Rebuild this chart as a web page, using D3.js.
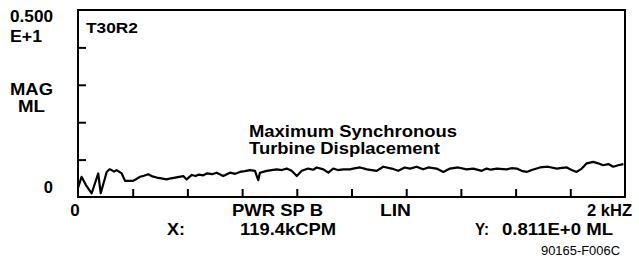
<!DOCTYPE html>
<html><head><meta charset="utf-8">
<script src="https://cdn.jsdelivr.net/npm/d3@7"></script>
<style>
html,body{margin:0;padding:0;background:#fff;}
svg{display:block;font-family:"Liberation Sans",Arial,sans-serif;}
.b{font-weight:bold;fill:#000;}
</style></head>
<body><svg id="c" width="639" height="266"></svg>
<script>
// frequency (Hz) along the spectrum
const freq = [0,13,29,50,74,83,105,115,123,132,141,160,172,202,227,241,257,272,288,305,324,340,355,385,397,416,430,442,458,471,490,507,531,556,575,592,610,629,647,659,665,690,708,726,745,763,781,800,818,842,860,873,897,915,933,950,970,994,1006,1031,1057,1092,1116,1147,1171,1195,1214,1238,1262,1281,1311,1336,1360,1390,1421,1445,1476,1494,1510,1531,1567,1585,1604,1622,1640,1659,1689,1719,1750,1770,1787,1805,1823,1842,1860,1884,1902,1920,1939,1957,1975,1994];
// magnitude (mils)
const mag = [0.24,0.54,0.32,0.10,0.63,0.10,0.67,0.74,0.72,0.68,0.72,0.63,0.43,0.43,0.54,0.57,0.61,0.55,0.52,0.50,0.47,0.50,0.52,0.56,0.47,0.59,0.56,0.60,0.58,0.63,0.61,0.65,0.56,0.65,0.62,0.67,0.69,0.72,0.70,0.45,0.65,0.70,0.72,0.74,0.72,0.76,0.70,0.56,0.70,0.76,0.73,0.79,0.74,0.65,0.76,0.72,0.74,0.74,0.76,0.79,0.74,0.70,0.81,0.76,0.70,0.79,0.76,0.81,0.74,0.79,0.76,0.67,0.76,0.79,0.74,0.76,0.70,0.76,0.73,0.76,0.74,0.77,0.76,0.70,0.67,0.72,0.79,0.81,0.76,0.78,0.79,0.72,0.67,0.76,0.90,0.94,0.90,0.85,0.88,0.81,0.85,0.88];
const yTicks = [1,2,3,4];
const xTicks = [200,400,600,800,1000,1200,1400,1600,1800];
const yTopLabel = ["0.500","E+1"];
const yUnitLabel = ["MAG","ML"];
const traceName = "T30R2";
const annotation = ["Maximum Synchronous","Turbine Displacement"];
const xMinLabel = "0", xMaxLabel = "2 kHZ", yMinLabel = "0";
const bottomRow1 = ["PWR SP B","LIN"];
const cursorX = ["X:","119.4kCPM"];
const cursorY = ["Y:","0.811E+0 ML"];
const figId = "90165-F006C";

const svg = d3.select("#c");
const L=78, R=625, T=10, B=197;
const x = d3.scaleLinear().domain([0,2000]).range([L,R]);
const y = d3.scaleLinear().domain([0,5]).range([B,T]);

// ticks (inward)
svg.append("g").attr("transform",`translate(${L},0)`)
  .call(d3.axisLeft(y).tickValues(yTicks).tickSize(-8).tickFormat(""))
  .call(g=>{g.select(".domain").remove();g.selectAll("line").attr("stroke","#000").attr("stroke-width",2);});
svg.append("g").attr("transform",`translate(0,${B})`)
  .call(d3.axisBottom(x).tickValues(xTicks).tickSize(-8).tickFormat(""))
  .call(g=>{g.select(".domain").remove();g.selectAll("line").attr("stroke","#000").attr("stroke-width",2);});

// line
const line = d3.line().x((d,i)=>x(freq[i])).y(d=>y(d)).curve(d3.curveLinear);
svg.append("path").attr("d",line(mag)).attr("fill","none").attr("stroke","#000").attr("stroke-width",2.2).attr("stroke-linejoin","round");

// frame
svg.append("rect").attr("x",L).attr("y",T).attr("width",R-L).attr("height",B-T)
  .attr("fill","none").attr("stroke","#000").attr("stroke-width",2);

function t(txt,xx,yy,size,anchor,len,bold=true){
  const e = svg.append("text").attr("x",xx).attr("y",yy).attr("font-size",size)
   .attr("text-anchor",anchor||"start").attr("class",bold?"b":"").attr("fill","#000").text(txt);
  if(len) e.attr("textLength",len).attr("lengthAdjust","spacingAndGlyphs");
  return e;
}
function t2(lines,xx,yy,dy,size,anchor,lens){
  const e = svg.append("text").attr("font-size",size).attr("text-anchor",anchor||"start").attr("class","b");
  lines.forEach((s,i)=>{
    const ts = e.append("tspan").attr("x",xx).attr("y",yy+i*dy).text(s);
    if(lens&&lens[i]) ts.attr("textLength",lens[i]).attr("lengthAdjust","spacingAndGlyphs");
  });
  return e;
}
t2(yTopLabel,10,22,20,16.5,"start",[43,32]);
t2(yUnitLabel,31.5,95,17,16.5,"middle",[43,27]);
t(yMinLabel,53,193,16.5,"end");
t(traceName,86,33,15,"start",52);
t2(annotation,249,137,16.5,16,"start",[208,191]);
t(xMinLabel,75,216,17,"middle");
t(bottomRow1[0],232,216,17,"start",91);
t(bottomRow1[1],380,216,17,"start",31);
t(xMaxLabel,632,216,17,"end",45);
t(cursorX[0],167,235,17,"start",18);
t(cursorX[1],240,235,17,"start",96);
t(cursorY[0],475,235,17,"start",14);
t(cursorY[1],613,235,17,"end",111);
t(figId,620,255,12,"end",79,false);
</script></body></html>
